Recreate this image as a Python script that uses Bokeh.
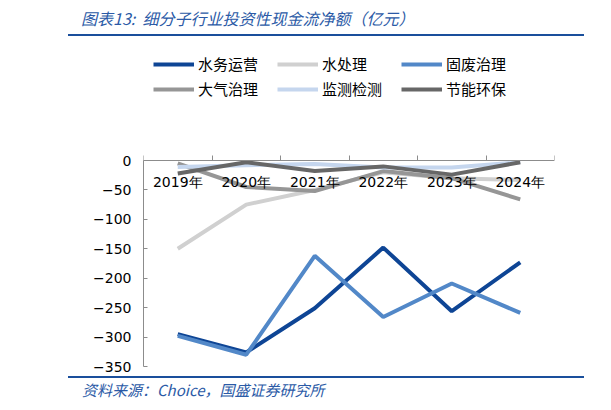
from bokeh.plotting import figure
from bokeh.models import (
    Range1d,
    FixedTicker,
    LinearAxis,
    Legend,
    LegendItem,
    Div,
)
from bokeh.layouts import column
from bokeh.embed import file_html
from bokeh.resources import INLINE

# data (亿元)
years = ["2019年", "2020年", "2021年", "2022年", "2023年", "2024年"]
water_ops = [-295, -326, -251, -148, -256, -173]       # 水务运营
water_treat = [-150, -75, -50, -20, -30, -33]          # 水处理
solid_waste = [-298, -330, -162, -266, -209, -259]     # 固废治理
air = [-5, -45, -52, -18, -30, -66]                    # 大气治理
monitor = [-11, -8, -6, -12, -12, -3]                  # 监测检测
energy = [-22, -3, -18, -10, -24, -3]                  # 节能环保
y_ticks = [0, -50, -100, -150, -200, -250, -300, -350]

series = [
    ("水务运营", water_ops, "#0e4595"),
    ("水处理", water_treat, "#d0d0d0"),
    ("固废治理", solid_waste, "#5288c8"),
    ("大气治理", air, "#969696"),
    ("监测检测", monitor, "#c5d6ee"),
    ("节能环保", energy, "#676767"),
]

xs = [i + 0.5 for i in range(len(years))]

TITLE_BLUE = "#2b5aa6"
RULE_BLUE = "#1a4f9c"

# frame: 318px tall, the 0 line sits 112px below its top (room for the legend)
Y_MIN = -350
Y_TOP = -Y_MIN * 112 / 206

title_div = Div(
    text=(
        f'<div style="margin-left:68px;width:516px;height:36px;box-sizing:border-box;'
        f'border-bottom:2px solid {RULE_BLUE};padding:7px 0 0 13px;'
        f'font-family:\'Noto Sans CJK SC\';font-style:italic;font-size:16px;'
        f'line-height:22px;color:{TITLE_BLUE};white-space:nowrap;">'
        f'图表13:&nbsp; 细分子行业投资性现金流净额（亿元）</div>'
    ),
    width=600,
    height=38,
    margin=(0, 0, 0, 0),
)

p = figure(
    width=600,
    height=338,
    x_range=Range1d(0, len(years)),
    y_range=Range1d(Y_MIN, Y_TOP),
    x_axis_location=None,
    output_backend="svg",
    toolbar_location=None,
    min_border_left=143,
    min_border_right=46,
    min_border_top=10,
    min_border_bottom=10,
    margin=(0, 0, 0, 0),
)
p.outline_line_color = None
p.grid.grid_line_color = None
p.background_fill_color = None
p.border_fill_color = None

renderers = []
for name, vals, color in series:
    r = p.line(xs, vals, line_color=color, line_width=4)
    renderers.append((name, r))

xa = LinearAxis(fixed_location=0)
xa.ticker = FixedTicker(ticks=xs, minor_ticks=list(range(len(years) + 1)))
xa.major_label_overrides = {x: y for x, y in zip(xs, years)}
xa.major_tick_out = 0
xa.major_tick_in = 0
xa.minor_tick_out = 5
xa.minor_tick_in = 0
xa.minor_tick_line_color = "#8c8c8c"
xa.axis_line_color = "#8c8c8c"
xa.major_label_standoff = -34
xa.major_label_text_font = "DejaVu Sans"
xa.major_label_text_font_size = "14px"
xa.major_label_text_color = "#000000"
p.add_layout(xa, "above")

ya = p.yaxis[0]
ya.ticker = FixedTicker(ticks=y_ticks)
ya.bounds = (Y_MIN, 0)
ya.major_tick_out = 0
ya.major_tick_in = 4
ya.minor_tick_line_color = None
ya.axis_line_color = "#8c8c8c"
ya.major_tick_line_color = "#8c8c8c"
ya.major_label_standoff = 12
ya.major_label_text_font = "DejaVu Sans"
ya.major_label_text_font_size = "14px"
ya.major_label_text_color = "#000000"

legend = Legend(
    items=[LegendItem(label=n, renderers=[r]) for n, r in renderers],
    location=(10, 267),
    orientation="horizontal",
    ncols=3,
    glyph_width=41,
    glyph_height=20,
    label_height=20,
    label_width=75,
    label_standoff=4,
    spacing=4,
    padding=0,
    margin=0,
    background_fill_alpha=0,
    border_line_color=None,
    label_text_font="Noto Sans CJK SC",
    label_text_font_size="15px",
    label_text_color="#000000",
)
p.add_layout(legend, "center")

source_div = Div(
    text=(
        f'<div style="margin-left:68px;width:516px;box-sizing:border-box;'
        f'border-top:2px solid {RULE_BLUE};padding:2px 0 0 14px;'
        f'font-family:\'Noto Sans CJK SC\';font-style:italic;font-size:15px;'
        f'line-height:20px;color:{TITLE_BLUE};white-space:nowrap;">'
        f'资料来源：Choice，国盛证券研究所</div>'
    ),
    width=600,
    height=26,
    margin=(0, 0, 0, 0),
)

layout = column(title_div, p, source_div, spacing=0)

open("out.html", "w").write(file_html(layout, INLINE))
